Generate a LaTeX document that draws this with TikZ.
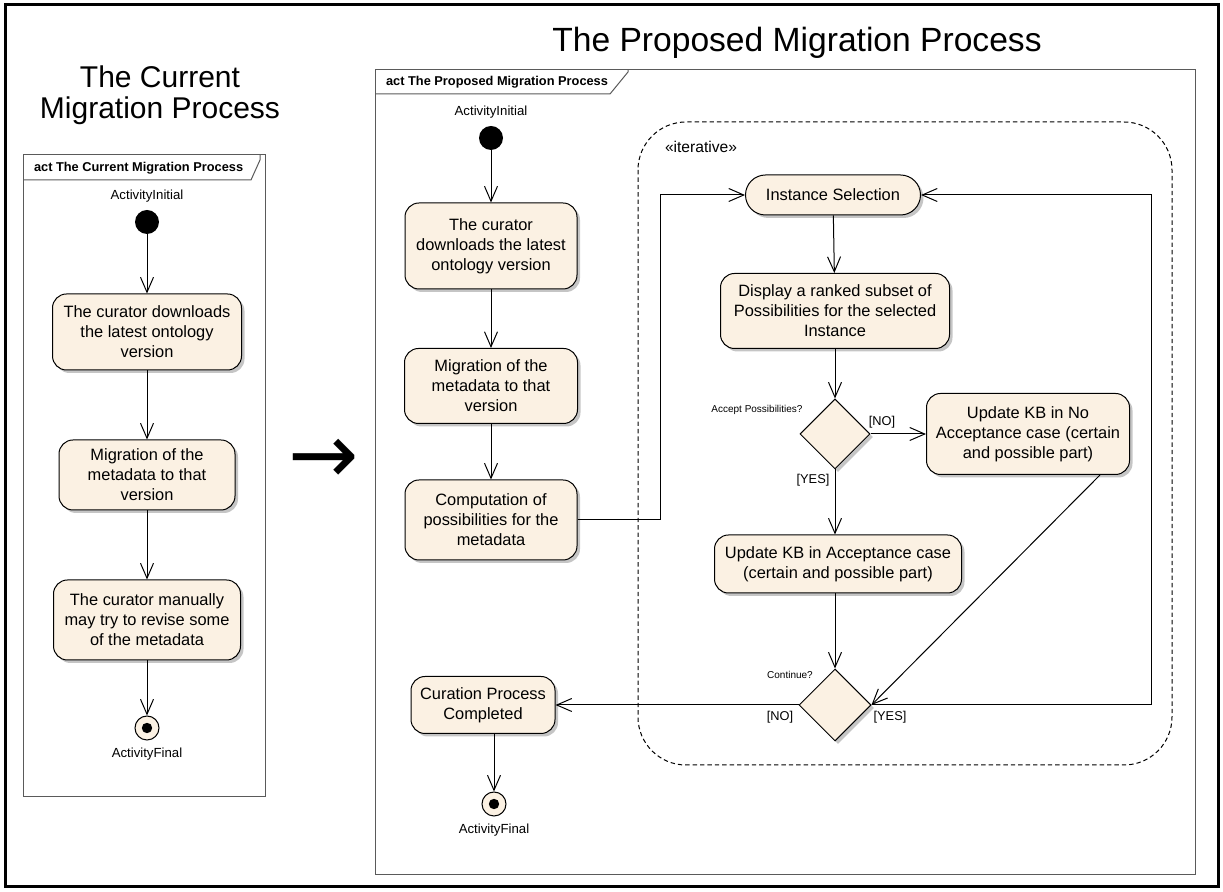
\documentclass[tikz,border=0pt]{standalone}
\usepackage{fontspec}
\setmainfont{Liberation Sans}
\newfontfamily\symfont{DejaVu Sans}
\usetikzlibrary{arrows.meta, shapes.geometric, shadows}
\definecolor{actfill}{RGB}{251,241,227}
\definecolor{framegray}{RGB}{90,90,90}

\tikzset{
  action/.style={draw, rectangle, rounded corners=7pt, fill=actfill, align=center,
    font=\fontsize{8.2}{10}\selectfont, line width=0.5pt, inner sep=2pt,
    drop shadow={shadow xshift=1.5pt, shadow yshift=-1.5pt, fill=black!45}},
  decision/.style={draw, diamond, fill=actfill, minimum width=35pt, minimum height=35pt,
    inner sep=0pt, line width=0.5pt,
    drop shadow={shadow xshift=1.5pt, shadow yshift=-1.5pt, fill=black!45}},
  initial/.style={circle, fill=black, minimum size=12pt, inner sep=0pt},
  final/.style={circle, draw, fill=actfill, minimum size=12pt, inner sep=0pt, line width=0.5pt},
  flow/.style={-{Straight Barb[length=7.5pt,width=6.5pt]}, line width=0.5pt},
  small/.style={font=\fontsize{6.6}{8}\selectfont},
  guard/.style={font=\fontsize{6.4}{8}\selectfont},
  tiny/.style={font=\fontsize{5}{6}\selectfont},
  frame/.style={draw=framegray, line width=0.5pt},
  framelabel/.style={font=\bfseries\fontsize{6.4}{8}\selectfont, anchor=west},
  region/.style={draw, dash pattern=on 2.2pt off 1.5pt, rounded corners=24pt, line width=0.5pt},
}

\begin{document}
\begin{tikzpicture}[x=0.5pt, y=-0.5pt]
  \useasboundingbox (0,0) rectangle (1223,892);
  \draw[line width=1.5pt] (5,5) rectangle (1218,887);

  % titles
  \node[align=center, font=\fontsize{15}{15.5}\selectfont] (t1) at (160,95) {The Current\\Migration Process};
  \node[font=\fontsize{16.8}{18}\selectfont] (t2) at (797,43) {The Proposed Migration Process};
  \node[font=\symfont\fontsize{42}{42}\selectfont] (to) at (324,461) {→};

  % current process
  \draw[frame] (23,155) rectangle (265,797);
  \draw[frame] (23,180) -- (251,180) -- (260,160) -- (260,155);
  \node[framelabel] (h1) at (27,168) {act The Current Migration Process};

  \node[initial, label={[small]above:ActivityInitial}] (i1) at (147,222) {};
  \node[action, minimum width=94.5pt, minimum height=38pt] (l1) at (147,332)
    {The curator downloads\\the latest ontology\\version};
  \node[action, minimum width=88pt, minimum height=35pt] (l2) at (147,475)
    {Migration of the\\metadata to that\\version};
  \node[action, minimum width=93.5pt, minimum height=40pt] (l3) at (147,620)
    {The curator manually\\may try to revise some\\of the metadata};
  \node[final, label={[small]below:ActivityFinal}] (f1) at (147,728) {};
  \fill (f1.center) circle (2.6pt);

  \draw[flow] (i1) -- (l1);
  \draw[flow] (l1) -- (l2);
  \draw[flow] (l2) -- (l3);
  \draw[flow] (l3) -- (f1);

  % proposed process
  \draw[frame] (375,70) rectangle (1195,875);
  \draw[frame] (375,94) -- (610,94) -- (628,72) -- (628,70);
  \node[framelabel] (h2) at (379,82) {act The Proposed Migration Process};

  \draw[region] (638,122) rectangle (1172,765);
  \node[font=\fontsize{7.8}{9}\selectfont] (it) at (701,147) {«iterative»};

  \node[initial, label={[small]above:ActivityInitial}] (i2) at (491,138) {};
  \node[action, minimum width=86pt, minimum height=43pt] (a) at (491,246)
    {The curator\\downloads the latest\\ontology version};
  \node[action, minimum width=86.5pt, minimum height=37.5pt] (b) at (491,386)
    {Migration of the\\metadata to that\\version};
  \node[action, minimum width=86pt, minimum height=40pt] (c) at (491,520)
    {Computation of\\possibilities for the\\metadata};
  \node[action, minimum width=72pt, minimum height=28.5pt] (d) at (483,705)
    {Curation Process\\Completed};
  \node[final, label={[small]below:ActivityFinal}] (f2) at (494,804) {};
  \fill (f2.center) circle (2.6pt);

  \node[action, rounded corners=10pt, minimum width=87.5pt, minimum height=20pt] (sel) at (833,195)
    {Instance Selection};
  \node[action, minimum width=114.5pt, minimum height=37.5pt] (disp) at (835,311)
    {Display a ranked subset of\\Possibilities for the selected\\Instance};
  \node[decision] (d1) at (835,434) {};
  \node[tiny] (q1) at (757,410) {Accept Possibilities?};
  \node[action, minimum width=101.5pt, minimum height=40.5pt] (no) at (1028,434)
    {Update KB in No\\Acceptance case (certain\\and possible part)};
  \node[action, minimum width=123.5pt, minimum height=29pt] (yes) at (838,564)
    {Update KB in Acceptance case\\(certain and possible part)};
  \node[decision, minimum width=36pt, minimum height=36pt] (d2) at (835,705) {};
  \node[tiny] (q2) at (790,675) {Continue?};

  \draw[flow] (i2) -- (a);
  \draw[flow] (a) -- (b);
  \draw[flow] (b) -- (c);
  \draw[flow] (c.east) -- (660,520) |- (sel.west);
  \draw[flow] (sel) -- (disp);
  \draw[flow] (disp) -- (d1);
  \draw[flow] (d1.east) -- (no.west);
  \draw[flow] (d1.south) -- (yes.north -| d1.south);
  \draw[flow] (yes.south -| d2.north) -- (d2.north);
  \draw[flow] ([xshift=36pt]no.south) -- (d2.east);
  \draw[flow] (d2.east) -- (1151,705) |- (sel.east);
  \draw[flow] (d2.west) -- (d.east);
  \draw[flow] (f2 |- d.south) -- (f2);

  \node[guard] (g1) at (882,422) {[NO]};
  \node[guard] (g2) at (813,480) {[YES]};
  \node[guard] (g3) at (780,717) {[NO]};
  \node[guard] (g4) at (890,717) {[YES]};
\end{tikzpicture}
\end{document}
